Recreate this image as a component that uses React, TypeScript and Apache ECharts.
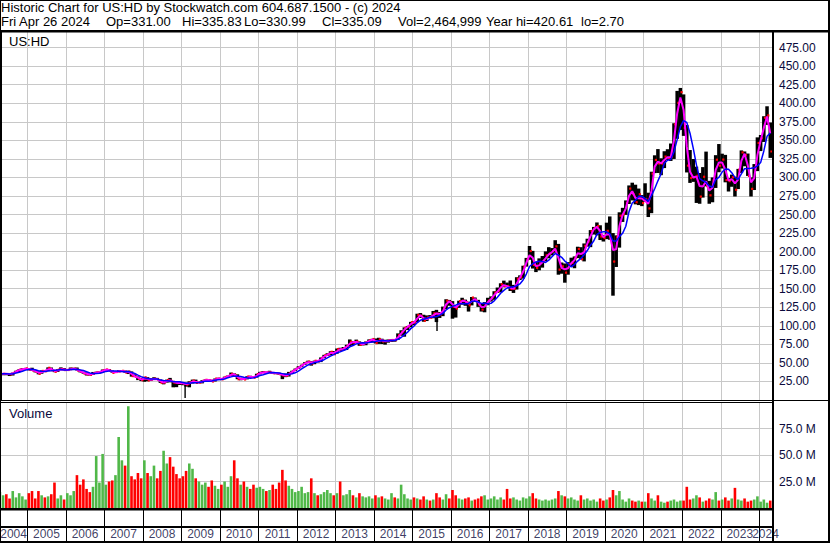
import React, { useEffect, useRef } from 'react';
import * as echarts from 'echarts';

// ---------- data ----------
// monthly bars, April 2004 .. April 2024
const FIRST_MONTH = 2004 + 3 / 12;

const CLOSE = [
  35.2, 35.5, 35.2, 34.7, 36.6, 39.2, 41.1, 41.8, 42.7,
  41.2, 40.0, 38.3, 35.4, 39.3, 38.9, 43.5, 40.3, 38.2, 41.0, 41.8, 40.5,
  40.6, 42.2, 42.3, 39.9, 38.1, 35.8, 34.7, 34.1, 36.3, 37.3, 37.8, 40.2,
  41.2, 39.6, 36.8, 37.9, 38.9, 39.4, 37.2, 38.3, 32.4, 31.5, 28.6, 26.9,
  30.7, 26.5, 28.0, 28.8, 27.4, 23.4, 23.8, 27.1, 25.9, 23.6, 23.1, 23.0,
  22.4, 20.9, 23.6, 26.3, 23.2, 23.6, 25.9, 27.3, 26.6, 25.1, 28.9, 28.9,
  28.0, 31.2, 32.4, 35.3, 33.9, 28.1, 28.5, 27.8, 31.7, 30.9, 30.2, 35.1,
  36.8, 37.5, 37.1, 37.1, 36.3, 36.2, 34.9, 33.3, 32.9, 35.8, 39.2, 42.0,
  44.4, 47.6, 50.3, 51.8, 49.3, 53.0, 52.2, 56.8, 60.4, 61.4, 65.1, 61.9,
  68.8, 68.0, 69.8, 73.3, 78.7, 77.5, 79.0, 74.5, 75.9, 77.9, 80.7, 82.3,
  76.8, 82.0, 79.1, 79.5, 80.2, 81.0, 80.9, 87.4, 91.7, 97.5, 99.4, 105.0,
  104.4, 114.8, 113.6, 107.0, 111.4, 111.1, 117.0, 116.5, 115.5, 123.6, 133.9, 132.3,
  125.8, 123.4, 133.4, 133.9, 132.1, 127.7, 138.2, 134.1, 128.7, 122.0, 129.4, 134.1,
  137.6, 144.9, 146.8, 156.1, 153.5, 153.4, 149.6, 149.9, 163.6, 165.8, 179.8, 189.5,
  200.9, 182.3, 178.2, 184.8, 186.6, 195.1, 197.5, 200.9, 207.2, 175.9, 180.3, 171.8,
  183.5, 185.1, 191.9, 203.7, 189.9, 208.0, 213.7, 227.9, 232.0, 234.6, 220.5, 218.4,
  228.1, 217.8, 186.7, 219.8, 248.5, 250.5, 265.5, 285.1, 277.7, 266.7, 277.4, 265.6,
  270.8, 258.3, 305.3, 323.7, 318.9, 318.9, 328.2, 326.2, 328.3, 371.7, 400.6, 415.0,
  366.9, 316.0, 299.3, 300.4, 302.4, 274.3, 301.0, 288.4, 276.0, 296.1, 324.0, 315.9,
  324.2, 296.5, 295.1, 300.5, 283.5, 310.6, 333.8, 330.3, 302.2, 284.7, 313.5, 346.6,
  352.9, 380.6, 383.6, 335.1,
];

const HIGH = [
  37.9, 36.3, 36.0, 35.5, 36.9, 39.5, 41.5, 43.0, 43.3,
  43.0, 43.5, 40.5, 38.5, 39.8, 40.3, 44.0, 43.8, 40.5, 41.5, 44.0, 43.0,
  41.6, 43.9, 43.3, 43.8, 40.5, 38.0, 37.0, 35.3, 37.8, 38.2, 38.5, 41.0,
  41.8, 41.9, 39.9, 39.0, 40.0, 39.9, 39.6, 39.5, 38.5, 34.5, 31.8, 29.9,
  31.1, 30.8, 29.5, 30.7, 29.8, 27.7, 26.1, 27.5, 29.8, 25.9, 24.2, 24.5,
  24.2, 23.5, 25.2, 27.5, 27.5, 24.7, 26.7, 27.8, 28.0, 27.4, 29.0, 30.0,
  29.6, 31.5, 32.9, 37.0, 35.9, 34.6, 30.0, 28.8, 32.0, 32.7, 31.6, 35.4,
  38.0, 39.0, 38.3, 39.4, 37.3, 37.1, 36.8, 35.4, 35.7, 37.9, 39.5, 42.4,
  45.5, 47.6, 51.0, 53.0, 52.3, 53.1, 53.9, 57.4, 60.9, 63.0, 65.7, 66.0,
  69.4, 70.4, 71.4, 74.5, 81.6, 79.5, 81.4, 79.0, 77.5, 78.9, 81.7, 82.5,
  82.9, 83.9, 82.6, 81.2, 81.6, 81.9, 81.7, 89.8, 94.0, 97.9, 99.8, 105.3,
  106.2, 116.3, 117.2, 114.9, 114.0, 114.5, 120.0, 121.5, 118.6, 125.9, 135.8, 134.9,
  133.3, 126.5, 133.8, 137.8, 135.3, 132.5, 138.8, 138.2, 135.0, 129.5, 131.9, 137.8,
  139.7, 146.6, 151.6, 157.3, 160.9, 158.3, 160.9, 155.2, 165.5, 168.0, 181.0, 191.5,
  207.6, 201.0, 186.2, 190.9, 194.1, 200.3, 206.0, 204.8, 215.4, 210.4, 185.3, 184.0,
  185.9, 191.8, 193.5, 206.6, 206.0, 211.0, 217.4, 229.0, 233.3, 239.3, 235.5, 222.5,
  239.0, 247.4, 225.0, 221.9, 253.0, 259.0, 269.0, 289.2, 292.9, 290.2, 285.0, 276.2,
  292.1, 279.4, 307.7, 329.8, 338.2, 325.8, 335.3, 338.0, 345.7, 373.0, 416.6, 420.6,
  411.9, 370.6, 336.9, 324.8, 314.5, 306.0, 313.9, 334.8, 295.4, 300.0, 330.0, 345.0,
  332.0, 330.4, 299.0, 303.8, 301.0, 311.5, 336.4, 335.0, 332.2, 300.0, 318.0, 354.0,
  357.2, 382.5, 395.9, 374.0,
];

const LOW = [
  34.0, 33.5, 33.5, 32.3, 33.0, 36.3, 37.6, 40.0, 41.0,
  40.0, 39.7, 37.2, 34.6, 35.4, 38.0, 39.0, 39.8, 37.5, 37.7, 40.3, 40.2,
  39.6, 40.0, 40.4, 39.7, 37.2, 35.3, 32.9, 32.9, 33.8, 35.2, 35.8, 37.5,
  39.9, 39.3, 36.6, 36.4, 37.5, 37.7, 36.7, 35.0, 31.5, 30.9, 26.8, 25.5,
  24.6, 25.3, 25.6, 28.1, 27.1, 23.0, 21.1, 23.4, 23.8, 17.1, 17.3, 20.2,
  19.9, 18.0, 17.1, 22.2, 22.7, 22.5, 22.4, 25.4, 25.4, 25.0, 24.9, 27.4,
  27.8, 28.0, 30.8, 32.4, 32.2, 28.0, 26.6, 27.1, 27.8, 30.6, 29.8, 30.2,
  34.6, 36.7, 35.6, 36.9, 35.8, 34.7, 34.1, 28.1, 30.8, 31.6, 35.0, 38.9,
  41.9, 44.2, 47.3, 49.8, 46.3, 48.2, 51.2, 51.1, 56.4, 59.5, 60.1, 61.3,
  62.4, 66.2, 66.8, 67.5, 72.5, 74.0, 76.7, 73.0, 73.5, 73.8, 77.1, 77.5,
  76.3, 75.6, 75.5, 74.6, 77.3, 78.3, 78.6, 81.0, 86.6, 85.3, 94.3, 98.0,
  101.0, 104.8, 110.5, 105.5, 106.4, 110.1, 110.2, 105.0, 110.6, 113.0, 122.4, 127.0,
  109.6, 111.1, 124.2, 128.5, 127.0, 119.2, 127.5, 132.6, 125.5, 119.2, 118.2, 127.7,
  132.7, 135.0, 144.3, 145.1, 151.9, 152.2, 146.9, 144.3, 148.9, 161.7, 163.6, 179.8,
  189.0, 177.2, 172.4, 174.8, 178.4, 187.0, 191.0, 194.9, 198.4, 168.9, 170.2, 158.1,
  168.9, 180.1, 177.6, 191.2, 189.5, 186.8, 206.7, 206.0, 223.0, 221.9, 215.6, 213.6,
  216.8, 216.0, 140.6, 179.3, 205.4, 240.0, 249.5, 264.2, 269.0, 263.7, 262.7, 261.3,
  266.9, 246.6, 251.8, 305.8, 306.0, 303.0, 312.6, 323.4, 322.2, 324.9, 352.0, 364.0,
  356.0, 306.7, 292.6, 294.0, 265.6, 264.5, 272.8, 288.0, 264.5, 266.5, 285.8, 307.0,
  312.0, 293.4, 281.0, 287.4, 274.3, 284.3, 306.0, 315.0, 302.0, 274.3, 283.0, 308.5,
  335.5, 347.8, 370.8, 326.3,
];

// volume in millions of shares
const VOLUME_M = [
  15, 12, 13, 9, 16, 10, 14, 11, 8,
  14, 16, 9, 16, 12, 10, 11, 13, 24, 9, 12, 8,
  14, 12, 16, 31, 22, 27, 18, 15, 20, 49, 24, 51,
  22, 25, 26, 31, 67, 45, 40, 96, 30, 27, 33, 28,
  45, 33, 30, 40, 28, 35, 54, 42, 48, 39, 32, 28,
  30, 35, 42, 37, 28, 25, 22, 24, 20, 26, 21, 18,
  22, 25, 20, 30, 45, 28, 22, 25, 20, 18, 22, 19,
  20, 18, 16, 17, 22, 18, 24, 36, 26, 21, 18, 15,
  16, 20, 14, 15, 28, 14, 12, 13, 15, 17, 14, 12,
  14, 25, 12, 13, 17, 12, 10, 14, 11, 10, 11, 9,
  12, 10, 11, 9, 8, 14, 10, 9, 22, 13, 9, 8,
  10, 9, 8, 11, 8, 7, 8, 14, 10, 8, 13, 9,
  17, 12, 9, 8, 9, 10, 7, 8, 9, 11, 12, 8,
  9, 11, 8, 10, 8, 18, 9, 10, 8, 7, 10, 9,
  11, 14, 9, 8, 7, 8, 7, 8, 9, 16, 12, 11,
  9, 10, 8, 7, 12, 8, 9, 7, 8, 6, 9, 7,
  8, 10, 17, 12, 16, 8, 6, 9, 7, 6, 7, 6,
  6, 14, 9, 7, 12, 6, 5, 6, 7, 8, 6, 7,
  7, 20, 8, 9, 12, 10, 6, 7, 9, 8, 15, 7,
  8, 10, 7, 9, 19, 8, 7, 9, 6, 7, 8, 11,
  6, 8, 5, 7,
];

// single thin bars that reach far below the monthly range
const SPIKE_X = [2009.1, 2015.64];
const SPIKE_LOW = [2.7, 93];
const SPIKE_HIGH = [21.5, 106];

const YEAR_BOUNDS = [
  2005, 2006, 2007, 2008, 2009, 2010, 2011, 2012, 2013, 2014,
  2015, 2016, 2017, 2018, 2019, 2020, 2021, 2022, 2023, 2024,
];
const YEAR_LABELS = [
  '2004', '2005', '2006', '2007', '2008', '2009', '2010', '2011', '2012', '2013', '2014',
  '2015', '2016', '2017', '2018', '2019', '2020', '2021', '2022', '2023', '2024',
];

const X_MIN = 2004.294;
const X_MAX = 2024.337;
const PRICE_MAX = 496;
const PRICE_STEP = 25;
const VOL_MAX = 100;
const VOL_STEP = 25;

const HEADER_LINE1 = 'Historic Chart for US:HD by Stockwatch.com 604.687.1500 - (c) 2024';
const HEADER_LINE2 = [
  'Fri Apr 26 2024', 'Op=331.00', 'Hi=335.83', 'Lo=330.99',
  'Cl=335.09', 'Vol=2,464,999', 'Year hi=420.61', 'lo=2.70',
];
const SYMBOL_TEXT = 'US:HD';
const VOLUME_TEXT = 'Volume';

// ---------- layout / style ----------
const HEADER_LINE2_X = [1, 106, 182, 244, 322, 398, 486, 581];
const FONT = '"Liberation Sans", Arial, sans-serif';
const LABEL_COLOR = '#0a0a3c';
const GRID_COLOR = '#c8c8c8';

function sma(arr: number[], n: number): number[] {
  return arr.map((_, i) => {
    const s = arr.slice(Math.max(0, i - n + 1), i + 1);
    return s.reduce((a, b) => a + b, 0) / s.length;
  });
}

export default function App() {
  const ref = useRef<HTMLDivElement>(null);

  useEffect(() => {
    const chart = echarts.init(ref.current!, null, { renderer: 'svg' });

    const monthX = CLOSE.map((_, i) => FIRST_MONTH + (i + 0.5) / 12);
    const barData = monthX.map((x, i) => [x, LOW[i], HIGH[i], CLOSE[i]]);
    const maFast = sma(CLOSE, 2);
    const maSlow = sma(CLOSE, 5);
    const volData = monthX.map((x, i) => [x, VOLUME_M[i], i === 0 || CLOSE[i] >= CLOSE[i - 1] ? 1 : 0]);
    const spikeData = SPIKE_X.map((x, i) => [x, SPIKE_LOW[i], SPIKE_HIGH[i]]);
    const boundData = YEAR_BOUNDS.map((b) => [b, 0]);
    const yearMid = YEAR_LABELS.map((t) => {
      const a = Math.max(Number(t), X_MIN);
      const b = Math.min(Number(t) + 1, X_MAX);
      return (a + b) / 2;
    });

    const vLine = (color: string) => (params: any, api: any) => {
      const p = api.coord([api.value(0), 0]);
      const cs = params.coordSys;
      const x = Math.round(p[0]) + 0.5;
      return {
        type: 'line',
        shape: { x1: x, y1: cs.y, x2: x, y2: cs.y + cs.height },
        style: { stroke: color, lineWidth: 1 },
      };
    };

    const rect = (x: number, y: number, w: number, h: number) => ({
      type: 'rect', z: 100, silent: true,
      shape: { x, y, width: w, height: h }, style: { fill: '#000' },
    });
    const text = (t: string, x: number, y: number, color: string) => ({
      type: 'text', z: 101, silent: true, x, y,
      style: {
        text: t, font: `13px ${FONT}`, fill: color, align: 'left', verticalAlign: 'middle',
      },
    });

    const option: any = {
      animation: false,
      backgroundColor: '#ffffff',
      grid: [
        { left: 0, top: 32, width: 772, height: 368, outerBoundsMode: 'none' },
        { left: 0, top: 402, width: 772, height: 106, outerBoundsMode: 'none' },
        { left: 0, top: 510, width: 772, height: 31, outerBoundsMode: 'none' },
      ],
      xAxis: [0, 1, 2].map((g) => ({
        type: 'value', gridIndex: g, min: X_MIN, max: X_MAX, show: false,
        splitLine: { show: false },
      })),
      yAxis: [
        {
          type: 'value', gridIndex: 0, position: 'right', min: 0, max: PRICE_MAX, interval: PRICE_STEP,
          axisLine: { show: false }, axisTick: { show: false },
          splitLine: { show: true, showMinLine: false, showMaxLine: false, lineStyle: { color: GRID_COLOR, width: 1 } },
          axisLabel: {
            showMinLabel: false, showMaxLabel: false, margin: 7, color: LABEL_COLOR,
            fontSize: 12, fontFamily: FONT, formatter: (v: number) => v.toFixed(2),
          },
        },
        {
          type: 'value', gridIndex: 1, position: 'right', min: 0, max: VOL_MAX, interval: VOL_STEP,
          axisLine: { show: false }, axisTick: { show: false },
          splitLine: { show: true, showMinLine: false, showMaxLine: false, lineStyle: { color: GRID_COLOR, width: 1 } },
          axisLabel: {
            showMinLabel: false, showMaxLabel: false, margin: 7, color: LABEL_COLOR,
            fontSize: 12, fontFamily: FONT, formatter: (v: number) => `${v.toFixed(1)} M`,
          },
        },
        { type: 'value', gridIndex: 2, min: 0, max: 1, show: false, splitLine: { show: false } },
      ],
      series: [
        {
          type: 'custom', name: 'year lines price', xAxisIndex: 0, yAxisIndex: 0, z: 1, silent: true,
          data: boundData, renderItem: vLine(GRID_COLOR),
        },
        {
          type: 'custom', name: 'year lines volume', xAxisIndex: 1, yAxisIndex: 1, z: 1, silent: true,
          data: boundData, renderItem: vLine(GRID_COLOR),
        },
        {
          type: 'custom', name: 'year lines strip', xAxisIndex: 2, yAxisIndex: 2, z: 1, silent: true,
          data: boundData, renderItem: vLine('#000000'),
        },
        {
          type: 'custom', name: 'range', xAxisIndex: 0, yAxisIndex: 0, z: 2, silent: true, clip: true,
          data: barData,
          renderItem: (params: any, api: any) => {
            const x = api.value(0);
            const top = api.coord([x, api.value(2)]);
            const bot = api.coord([x, api.value(1)]);
            const w = api.size([1 / 12, 0])[0] + 0.3;
            return {
              type: 'rect',
              shape: { x: top[0] - w / 2, y: top[1], width: w, height: Math.max(1, bot[1] - top[1]) },
              style: { fill: '#000000' },
            };
          },
        },
        {
          type: 'custom', name: 'spikes', xAxisIndex: 0, yAxisIndex: 0, z: 2, silent: true, clip: true,
          data: spikeData,
          renderItem: (params: any, api: any) => {
            const x = api.value(0);
            const top = api.coord([x, api.value(2)]);
            const bot = api.coord([x, api.value(1)]);
            return {
              type: 'rect',
              shape: { x: top[0] - 0.7, y: top[1], width: 1.4, height: bot[1] - top[1] },
              style: { fill: '#000000' },
            };
          },
        },
        {
          type: 'custom', name: 'close', xAxisIndex: 0, yAxisIndex: 0, z: 3, silent: true, clip: true,
          data: barData,
          renderItem: (params: any, api: any) => {
            const c = api.coord([api.value(0), api.value(3)]);
            const w = api.size([1 / 12, 0])[0];
            return {
              type: 'rect',
              shape: { x: c[0] + w / 2 - 1.5, y: c[1] - 1, width: 2.2, height: 2.2 },
              style: { fill: '#ff0000' },
            };
          },
        },
        {
          type: 'line', name: 'ma fast', xAxisIndex: 0, yAxisIndex: 0, z: 4, silent: true,
          showSymbol: false, symbol: 'none',
          data: monthX.map((x, i) => [x, maFast[i]]),
          lineStyle: { color: '#ff00ff', width: 2 },
        },
        {
          type: 'line', name: 'ma slow', xAxisIndex: 0, yAxisIndex: 0, z: 5, silent: true,
          showSymbol: false, symbol: 'none',
          data: monthX.map((x, i) => [x, maSlow[i]]),
          lineStyle: { color: '#0000ff', width: 1.5 },
        },
        {
          type: 'custom', name: 'volume', xAxisIndex: 1, yAxisIndex: 1, z: 2, silent: true, clip: true,
          data: volData,
          renderItem: (params: any, api: any) => {
            const x = api.value(0);
            const top = api.coord([x, api.value(1)]);
            const bot = api.coord([x, 0]);
            const w = 2.6;
            return {
              type: 'rect',
              shape: { x: top[0] - w / 2, y: top[1], width: w, height: bot[1] - top[1] },
              style: { fill: api.value(2) ? '#50b848' : '#ff0000' },
            };
          },
        },
        {
          type: 'scatter', name: 'years', xAxisIndex: 2, yAxisIndex: 2, z: 3, silent: true,
          symbolSize: 1, itemStyle: { color: 'rgba(0,0,0,0)' },
          data: YEAR_LABELS.map((t, i) => ({ name: t, value: [yearMid[i], 0.21] })),
          label: {
            show: true, position: 'inside', formatter: '{b}',
            color: LABEL_COLOR, fontSize: 12, fontFamily: FONT,
          },
        },
      ],
      graphic: [
        rect(0, 0, 830, 1),
        rect(0, 30, 830, 2.5),
        rect(0, 0, 1, 543),
        rect(0, 31, 2, 370),
        rect(828, 0, 2, 543),
        rect(0, 541, 830, 2),
        rect(772, 31, 2, 512),
        rect(0, 400, 830, 1),
        rect(0, 402, 772, 1),
        rect(0, 508, 772, 2.5),
        rect(0, 526, 772, 2),
        text(HEADER_LINE1, 1, 7.0, '#000000'),
        ...HEADER_LINE2.map((t, i) => text(t, HEADER_LINE2_X[i], 21.9, '#000000')),
        text(SYMBOL_TEXT, 9, 41.3, '#000000'),
        text(VOLUME_TEXT, 9, 413, LABEL_COLOR),
      ],
    };

    chart.setOption(option);
    return () => chart.dispose();
  }, []);

  return (
    <div
      ref={ref}
      style={{ position: 'fixed', left: 0, top: 0, width: 830, height: 543, background: '#ffffff' }}
    />
  );
}
